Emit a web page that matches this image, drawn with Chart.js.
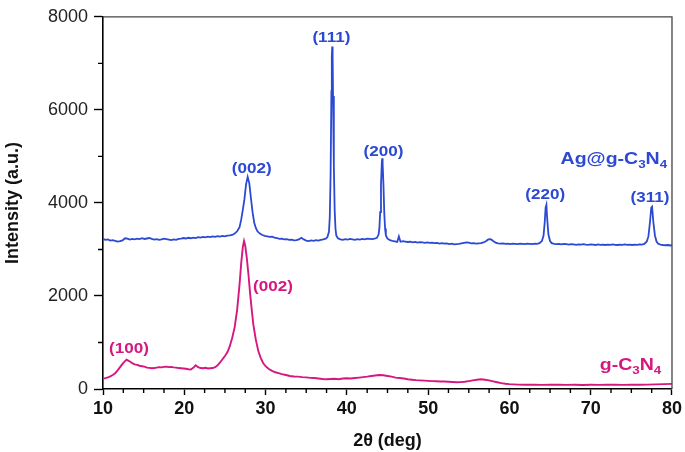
<!DOCTYPE html>
<html>
<head>
<meta charset="utf-8">
<script src="https://cdn.jsdelivr.net/npm/chart.js@4.4.1/dist/chart.umd.min.js"></script>
<style>
  html, body { margin: 0; padding: 0; background: #fff; }
  canvas { display: block; }
</style>
</head>
<body>
<canvas id="xrd" width="685" height="452"></canvas>
<script>
// Ag@g-C3N4 pattern (2theta in deg, intensity in a.u.)
const agTheta = [
  10.0, 10.3, 10.6, 10.9, 11.2, 11.5, 11.8, 12.1, 12.4, 12.7, 13.0, 13.3, 13.6, 13.9, 14.2, 14.5, 14.8,
  15.1, 15.4, 15.7, 16.0, 16.3, 16.6, 16.9, 17.2, 17.5, 17.8, 18.1, 18.4, 18.7, 19.0, 19.3, 19.6, 19.9,
  20.2, 20.5, 20.8, 21.1, 21.4, 21.7, 22.0, 22.3, 22.6, 22.9, 23.2, 23.5, 23.8, 24.1, 24.4, 24.7, 25.0,
  25.3, 25.6, 25.9, 26.2, 26.5, 26.8, 27.0, 27.2, 27.4, 27.6, 27.8, 28.0, 28.2, 28.4, 28.6, 28.8, 29.0,
  29.3, 29.6, 29.9, 30.2, 30.5, 30.8, 31.1, 31.4, 31.7, 32.0, 32.3, 32.6, 32.9, 33.2, 33.5, 33.8, 34.1,
  34.4, 34.7, 35.0, 35.3, 35.6, 35.9, 36.2, 36.5, 36.8, 37.1, 37.4, 37.6, 37.8, 37.9, 38.0, 38.1, 38.15,
  38.2, 38.25, 38.3, 38.4, 38.5, 38.6, 38.7, 38.9, 39.2, 39.5, 39.8, 40.1, 40.4, 40.7, 41.0, 41.3, 41.6,
  41.9, 42.2, 42.5, 42.8, 43.1, 43.4, 43.7, 43.9, 44.0, 44.1, 44.2, 44.3, 44.35, 44.4, 44.5, 44.6, 44.7,
  44.8, 45.0, 45.3, 45.6, 45.9, 46.2, 46.4, 46.6, 46.9, 47.2, 47.5, 47.8, 48.1, 48.4, 48.7, 49.0, 49.3,
  49.6, 49.9, 50.2, 50.5, 50.8, 51.1, 51.4, 51.7, 52.0, 52.3, 52.6, 52.9, 53.2, 53.5, 53.8, 54.1, 54.4,
  54.7, 55.0, 55.3, 55.6, 55.9, 56.2, 56.5, 56.8, 57.1, 57.4, 57.7, 58.0, 58.3, 58.6, 58.9, 59.2, 59.5,
  59.8, 60.1, 60.4, 60.7, 61.0, 61.3, 61.6, 61.9, 62.2, 62.5, 62.8, 63.1, 63.4, 63.7, 64.0, 64.2, 64.35,
  64.45, 64.55, 64.65, 64.8, 65.0, 65.2, 65.5, 65.8, 66.1, 66.4, 66.7, 67.0, 67.3, 67.6, 67.9, 68.2,
  68.5, 68.8, 69.1, 69.4, 69.7, 70.0, 70.3, 70.6, 70.9, 71.2, 71.5, 71.8, 72.1, 72.4, 72.7, 73.0, 73.3,
  73.6, 73.9, 74.2, 74.5, 74.8, 75.1, 75.4, 75.7, 76.0, 76.3, 76.6, 76.9, 77.1, 77.3, 77.45, 77.55,
  77.7, 77.9, 78.1, 78.3, 78.6, 78.9, 79.2, 79.5, 79.8, 80.0
];
const agCounts = [
  3225, 3205, 3215, 3190, 3200, 3185, 3170, 3178, 3195, 3240, 3230, 3210, 3225, 3215, 3230, 3220, 3240,
  3225, 3235, 3245, 3225, 3210, 3220, 3205, 3215, 3230, 3220, 3210, 3200, 3215, 3205, 3225, 3230, 3245,
  3235, 3250, 3240, 3255, 3245, 3265, 3255, 3270, 3260, 3275, 3265, 3280, 3270, 3285, 3275, 3290, 3280,
  3295, 3300, 3310, 3340, 3390, 3480, 3640, 3850, 4080, 4400, 4560, 4420, 4100, 3800, 3580, 3460, 3390,
  3340, 3310, 3290, 3280, 3270, 3275, 3255, 3245, 3225, 3230, 3215, 3220, 3205, 3210, 3195, 3200, 3215,
  3250, 3215, 3190, 3180, 3195, 3185, 3200, 3190, 3205, 3215, 3230, 3260, 3380, 3700, 4600, 6400, 7150,
  7360, 7150, 6300, 4800, 3850, 3450, 3300, 3240, 3215, 3205, 3220, 3210, 3225, 3215, 3205, 3220, 3210,
  3225, 3215, 3230, 3225, 3220, 3230, 3250, 3320, 3450, 3800, 4400, 4850, 4960, 4850, 4400, 3800, 3450,
  3300, 3230, 3200, 3185, 3175, 3160, 3280, 3165, 3180, 3170, 3160, 3165, 3150, 3160, 3145, 3155, 3150,
  3140, 3150, 3140, 3145, 3135, 3140, 3125, 3135, 3125, 3130, 3115, 3125, 3110, 3115, 3120, 3130, 3140,
  3150, 3145, 3130, 3135, 3125, 3130, 3135, 3150, 3175, 3215, 3220, 3180, 3145, 3130, 3125, 3130, 3120,
  3125, 3115, 3125, 3120, 3115, 3125, 3120, 3115, 3125, 3120, 3115, 3125, 3120, 3135, 3180, 3300, 3600,
  3900, 3960, 3650, 3320, 3180, 3135, 3120, 3115, 3120, 3110, 3120, 3115, 3105, 3115, 3110, 3100,
  3110, 3105, 3115, 3105, 3100, 3110, 3105, 3095, 3110, 3100, 3105, 3095, 3105, 3100, 3110, 3100, 3095,
  3105, 3100, 3110, 3100, 3105, 3095, 3105, 3100, 3110, 3105, 3120, 3170, 3280, 3600, 3900, 3920,
  3600, 3300, 3170, 3120, 3105, 3095, 3090, 3095, 3085, 3090
];

// g-C3N4 pattern
const gcnTheta = [
  10.0, 10.3, 10.6, 10.9, 11.2, 11.5, 11.8, 12.1, 12.4, 12.7, 12.9, 13.1, 13.3, 13.6, 13.9, 14.2, 14.5,
  14.8, 15.1, 15.4, 15.7, 16.0, 16.3, 16.6, 16.9, 17.2, 17.5, 17.8, 18.1, 18.4, 18.7, 19.0, 19.3, 19.6,
  19.9, 20.2, 20.5, 20.8, 21.1, 21.4, 21.7, 22.0, 22.3, 22.6, 22.9, 23.2, 23.5, 23.8, 24.1, 24.4, 24.7,
  25.0, 25.3, 25.6, 25.9, 26.2, 26.5, 26.8, 27.0, 27.2, 27.35, 27.5, 27.7, 27.9, 28.1, 28.3, 28.5, 28.8,
  29.1, 29.4, 29.7, 30.0, 30.4, 30.8, 31.2, 31.6, 32.0, 32.5, 33.0, 33.5, 34.0, 34.5, 35.0, 35.5, 36.0,
  36.5, 37.0, 37.5, 38.0, 38.5, 39.0, 39.5, 40.0, 40.5, 41.0, 41.5, 42.0, 42.5, 43.0, 43.5, 44.0, 44.5,
  45.0, 45.5, 46.0, 46.5, 47.0, 47.5, 48.0, 48.5, 49.0, 49.5, 50.0, 50.5, 51.0, 51.5, 52.0, 52.5, 53.0,
  53.5, 54.0, 54.5, 55.0, 55.5, 56.0, 56.5, 57.0, 57.5, 58.0, 58.5, 59.0, 59.5, 60.0, 61.0, 62.0, 63.0,
  64.0, 65.0, 66.0, 67.0, 68.0, 69.0, 70.0, 71.0, 72.0, 73.0, 74.0, 75.0, 76.0, 77.0, 78.0, 79.0, 80.0
];
const gcnCounts = [
  225, 235, 250, 270, 300, 340, 400, 470, 540, 600, 630, 610, 590, 555, 530, 520, 500,
  490, 480, 460, 455, 445, 450, 460, 470, 465, 475, 480, 470, 475, 465, 460, 450, 445,
  440, 435, 425, 420, 455, 510, 470, 450, 445, 455, 440, 445, 450, 470, 510, 570, 640,
  710, 790, 920, 1100, 1330, 1700, 2250, 2700, 3050, 3180, 3080, 2800, 2450, 2050, 1700, 1380, 1060,
  820, 670, 560, 490, 430, 390, 360, 340, 320, 300, 280, 270, 265, 255, 250, 240, 235,
  225, 215, 210, 215, 220, 210, 225, 230, 225, 235, 245, 255, 265, 280, 290, 300, 295,
  280, 265, 245, 235, 225, 210, 200, 190, 185, 180, 175, 170, 165, 160, 160, 155, 150,
  145, 148, 155, 170, 185, 200, 210, 200, 185, 165, 145, 125, 112, 105, 95, 90, 92,
  88, 90, 92, 88, 90, 87, 90, 88, 90, 92, 88, 90, 92, 95, 100, 105, 110
];

// peak labels (position in data units)
const blueLabels = ['(002)', '(111)', '(200)', '(220)', '(311)'];
const blueLabelX = [28.3, 38.1, 44.5, 64.4, 77.3];
const blueLabelY = [4720, 7540, 5100, 4160, 4110];
const pinkLabels = ['(100)', '(002)'];
const pinkLabelX = [13.2, 30.9];
const pinkLabelY = [860, 2200];

const BLUE = '#2b49d3';
const PINK = '#d6177f';
const FONT = "'Liberation Sans', Arial, sans-serif";

const toPoints = (xs, ys) => xs.map((x, i) => ({ x, y: ys[i] }));

function stretchedText(ctx, text, x, y, size, color) {
    ctx.save();
    ctx.translate(x, y);
    ctx.scale(1.22, 1);
    ctx.font = `bold ${size}px ${FONT}`;
    ctx.fillStyle = color;
    ctx.textAlign = 'center';
    ctx.textBaseline = 'middle';
    ctx.fillText(text, 0, 0);
    ctx.restore();
}

// name like g-C3N4 with subscripts
function formulaText(ctx, parts, x, y, color) {
    ctx.save();
    ctx.translate(x, y);
    ctx.scale(1.22, 1);
    ctx.fillStyle = color;
    ctx.textBaseline = 'middle';
    ctx.textAlign = 'left';
    let total = 0;
    parts.forEach(([t, sub]) => {
        ctx.font = `bold ${sub ? 11 : 16}px ${FONT}`;
        total += ctx.measureText(t).width;
    });
    let cx = -total / 2;
    parts.forEach(([t, sub]) => {
        ctx.font = `bold ${sub ? 11 : 16}px ${FONT}`;
        ctx.fillText(t, cx, sub ? 5 : 0);
        cx += ctx.measureText(t).width;
    });
    ctx.restore();
}

const overlay = {
    id: 'overlay',
    afterDraw(chart) {
        const { ctx, chartArea: a, scales: { x, y } } = chart;
        ctx.save();

        // top and right frame
        ctx.strokeStyle = '#444';
        ctx.lineWidth = 1.3;
        ctx.beginPath();
        ctx.moveTo(a.left, a.top);
        ctx.lineTo(a.right, a.top);
        ctx.lineTo(a.right, a.bottom);
        ctx.stroke();

        // minor ticks
        ctx.strokeStyle = '#000';
        ctx.lineWidth = 1.4;
        ctx.beginPath();
        for (let v = 1000; v < 8000; v += 2000) {
            const py = y.getPixelForValue(v);
            ctx.moveTo(a.left - 5, py);
            ctx.lineTo(a.left, py);
        }
        for (let v = 12.5; v < 80; v += 2.5) {
            if (v % 10 === 0) continue;
            const px = x.getPixelForValue(v);
            ctx.moveTo(px, a.bottom);
            ctx.lineTo(px, a.bottom + 4);
        }
        ctx.stroke();
        ctx.restore();

        blueLabels.forEach((t, i) =>
            stretchedText(ctx, t, x.getPixelForValue(blueLabelX[i]), y.getPixelForValue(blueLabelY[i]), 14, BLUE));
        pinkLabels.forEach((t, i) =>
            stretchedText(ctx, t, x.getPixelForValue(pinkLabelX[i]), y.getPixelForValue(pinkLabelY[i]), 14, PINK));

        formulaText(ctx, [['Ag@g-C', 0], ['3', 1], ['N', 0], ['4', 1]],
            x.getPixelForValue(72.85), y.getPixelForValue(4930), BLUE);
        formulaText(ctx, [['g-C', 0], ['3', 1], ['N', 0], ['4', 1]],
            x.getPixelForValue(74.9), y.getPixelForValue(500), PINK);
    }
};

new Chart(document.getElementById('xrd'), {
    type: 'line',
    data: {
        datasets: [{
            label: 'Ag@g-C3N4',
            data: toPoints(agTheta, agCounts),
            borderColor: BLUE,
            borderWidth: 1.8,
        }, {
            label: 'g-C3N4',
            data: toPoints(gcnTheta, gcnCounts),
            borderColor: PINK,
            borderWidth: 1.9,
        }],
    },
    options: {
        responsive: false,
        animation: false,
        devicePixelRatio: 1,
        layout: { padding: { top: 8, right: 12, left: 0, bottom: 0 } },
        elements: {
            point: { radius: 0 },
            line: { tension: 0 },
        },
        plugins: {
            legend: { display: false },
            tooltip: { enabled: false },
        },
        scales: {
            x: {
                type: 'linear',
                min: 10,
                max: 80,
                ticks: {
                    stepSize: 10,
                    maxRotation: 0,
                    padding: 3,
                    color: '#111',
                    font: { family: FONT, size: 18, weight: 'bold' },
                },
                grid: { drawOnChartArea: false, tickLength: 6, tickColor: '#000', tickWidth: 1.4 },
                border: { color: '#000', width: 1.6 },
                title: {
                    display: true,
                    text: '2θ (deg)',
                    color: '#111',
                    font: { family: FONT, size: 18, weight: 'bold' },
                    padding: { top: 5, bottom: 0 },
                },
                afterFit(scale) { scale.height = 63; },
            },
            y: {
                min: 0,
                max: 8000,
                ticks: {
                    stepSize: 2000,
                    padding: 6,
                    color: '#222',
                    font: { family: FONT, size: 18 },
                    callback: (v) => String(v),
                },
                grid: { drawOnChartArea: false, tickLength: 9, tickColor: '#000', tickWidth: 1.4 },
                border: { color: '#000', width: 1.6 },
                title: {
                    display: true,
                    text: 'Intensity (a.u.)',
                    color: '#111',
                    font: { family: FONT, size: 18, weight: 'bold' },
                    padding: { top: 2, bottom: 0 },
                },
                afterFit(scale) { scale.width = 103; },
            },
        },
    },
    plugins: [overlay],
});
</script>
</body>
</html>
